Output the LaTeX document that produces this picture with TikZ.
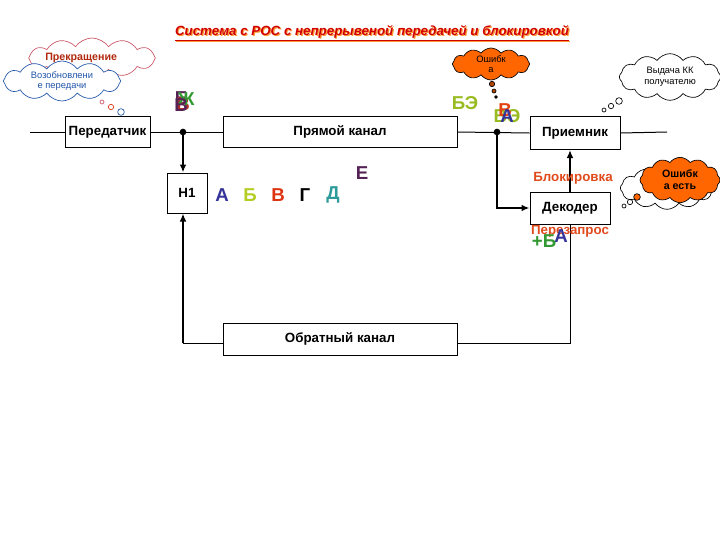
\documentclass[tikz,border=0pt]{standalone}
\usepackage{fontspec}
\setmainfont{Liberation Sans}
\usetikzlibrary{shapes.symbols,arrows.meta}
\definecolor{ttl}{HTML}{D00000}
\definecolor{shd}{HTML}{FF9933}
\definecolor{blk}{HTML}{E04A1C}
\definecolor{navy}{HTML}{333399}
\definecolor{yg}{HTML}{B5CC22}
\definecolor{rd}{HTML}{DD3311}
\definecolor{teal2}{HTML}{2E9A9A}
\definecolor{purp}{HTML}{552255}
\definecolor{grn}{HTML}{339933}
\definecolor{olv}{HTML}{99BB22}
\definecolor{orng}{HTML}{FF6600}
\definecolor{pinkc}{HTML}{CC5566}
\definecolor{bluec}{HTML}{2255AA}
\tikzset{
  box/.style={draw, line width=0.75pt, inner sep=0pt, font=\fontsize{10}{12}\selectfont\bfseries},
  arr/.style={line width=1.4pt, -{Latex[length=6pt,width=5pt]}},
  ln/.style={line width=0.75pt},
  cl/.style={cloud, cloud puffs=12, cloud puff arc=110, cloud ignores aspect, draw, line width=0.5pt, align=center, inner sep=0pt, font=\fontsize{7}{8}\selectfont},
  bub/.style={draw, circle, inner sep=0pt, line width=0.5pt},
  big/.style={font=\fontsize{14}{16}\selectfont\bfseries, inner sep=0pt},
}
\begin{document}
\begin{tikzpicture}[x=0.75pt,y=-0.75pt]
\useasboundingbox (0,0) rectangle (720,540);
% title
\node[text=shd, font=\fontsize{10}{12}\selectfont\bfseries\itshape] at (373.2,34.2) {\underline{Система с РОС с непрерывеной передачей и блокировкой}};
\node[text=ttl, font=\fontsize{10}{12}\selectfont\bfseries\itshape] (title) at (372,33) {\underline{Система с РОС с непрерывеной передачей и блокировкой}};
% boxes
\node[box, minimum width=63.75pt, minimum height=23.25pt] (tx) at (107.5,132) {Передатчик};
\node[box, minimum width=175.5pt, minimum height=23.25pt] (pk) at (340,132) {Прямой канал};
\node[box, minimum width=67.5pt, minimum height=24.75pt] (rx) at (575,133) {Приемник};
\node[box, minimum width=30pt, minimum height=30pt] (h1) at (187,193) {Н1};
\node[box, minimum width=60pt, minimum height=24pt] (dec) at (570,208) {Декодер};
\node[box, minimum width=175.5pt, minimum height=24pt] (ok) at (340,339) {Обратный канал};
% main line
\coordinate (L) at (30,132);
\coordinate (R) at (667,132);
\node[circle, fill, inner sep=0pt, minimum size=5pt] (d1) at (183,132) {};
\node[circle, fill, inner sep=0pt, minimum size=5pt] (d2) at (497,132) {};
\draw[ln] (L) -- (tx.west);
\draw[ln] (tx.east) -- (pk.west);
\draw[ln] (pk.east) -- (rx.west);
\draw[ln] (rx.east) -- (R);
% connectors
\draw[arr] (d1.center) -- (d1 |- h1.north);
\coordinate (c1) at (183,343);
\draw[arr] (c1) -- (c1 |- h1.south);
\draw[ln] (c1) -- (c1 -| ok.west);
\draw[arr] (d2.center) |- (dec.west);
\draw[arr] (dec.north) -- (dec.north |- rx.south);
\coordinate (c2) at (570,343);
\draw[ln] (dec.south) -- (c2) -- (c2 -| ok.east);
% letters
\node[big, text=navy] (la) at (222,195) {А};
\node[big, text=yg] (lb) at (250,195) {Б};
\node[big, text=rd] (lv) at (278,195) {В};
\node[big, text=black] (lg) at (305,195) {Г};
\node[big, text=teal2] (ld) at (333,195) {Д};
\node[big, text=purp] (le) at (362,173) {Е};
% overlapped letters near transmitter
\node[big, text=purp] (o1) at (181,98) {Е};
\node[big, text=rd!70!purp] (o2) at (183,104) {В};
\node[big, text=grn] (o3) at (186,99) {Ж};
\node[big, text=purp] (o4) at (181,105) {В};
% near receiver
\node[big, text=olv] (be) at (465,103) {БЭ};
\node[big, text=olv] (ve) at (507,116) {ВЭ};
\node[big, text=rd!80!orange] (vr) at (505,110) {В};
\node[big, text=navy] (ar) at (507,116) {А};
% labels
\node[text=blk, font=\fontsize{10}{12}\selectfont\bfseries] (blok) at (573,178) {Блокировка};
\node[text=blk, font=\fontsize{10}{12}\selectfont\bfseries] (pz) at (570,231) {Перезапрос};
\node[big, text=grn] (plb) at (544,241) {+Б};
\node[big, text=navy] (pla) at (561,236) {А};
% clouds top-left
\node[cl, draw=pinkc, fill=white, minimum width=95pt, minimum height=30pt] (cp) at (92,58) {};
\node[text=rd!80!black, font=\fontsize{8}{9}\selectfont\bfseries, anchor=west, inner sep=0pt] (cpt) at (45,58) {Прекращение};
\node[cl, draw=bluec, fill=white, text=bluec, minimum width=88pt, minimum height=30pt] (cb) at (62,81) {Возобновлени\\е передачи};
\node[bub, draw=pinkc, minimum size=3pt] (b1) at (102,102) {};
\node[bub, draw=rd, minimum size=4pt] (b2) at (111,107) {};
\node[bub, draw=bluec, minimum size=5pt] (b3) at (121,112) {};
% error cloud
\node[cl, fill=orng, minimum width=58pt, minimum height=24pt] (ce) at (491,64) {Ошибк\\а};
\node[bub, fill=orng!70!black, minimum size=4pt] (e1) at (492,84) {};
\node[bub, fill=orng!70!black, minimum size=3pt] (e2) at (494,91) {};
\node[bub, fill=black, minimum size=2pt] (e3) at (496,97) {};
% delivery cloud
\node[cl, fill=white, minimum width=76pt, minimum height=35pt] (cd) at (670,77) {Выдача КК\\получателю};
\node[bub, minimum size=5pt] (f1) at (619,101) {};
\node[bub, minimum size=4pt] (f2) at (611,106) {};
\node[bub, minimum size=3pt] (f3) at (604,110) {};
% error exists cloud
\node[cl, fill=white, minimum width=70pt, minimum height=32pt] (cw) at (667,188) {};
\node[cl, fill=orng, minimum width=60pt, minimum height=34pt, font=\fontsize{8}{9}\selectfont\bfseries] (co) at (680,180) {Ошибк\\а есть};
\node[bub, fill=orng, minimum size=5pt] (g1) at (637,197) {};
\node[bub, minimum size=4pt] (g2) at (630,202) {};
\node[bub, minimum size=3pt] (g3) at (624,206) {};
\end{tikzpicture}
\end{document}
